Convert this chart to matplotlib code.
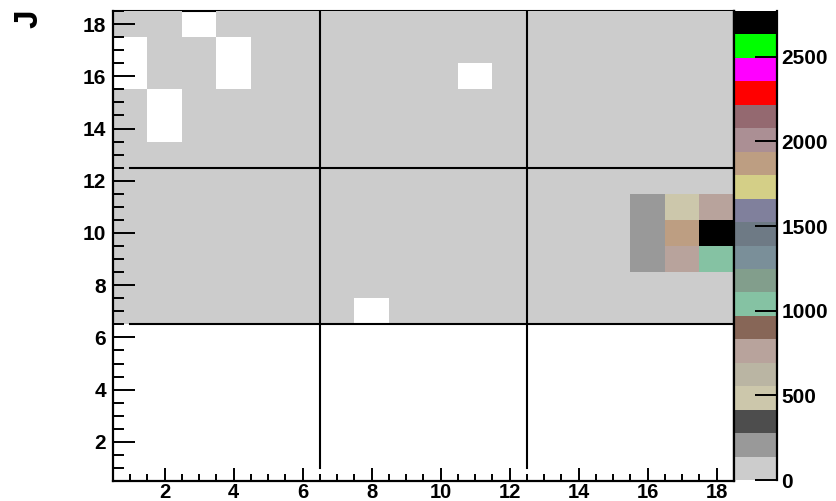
import numpy as np
import matplotlib
matplotlib.use('Agg')
import matplotlib.pyplot as plt
from matplotlib.colors import ListedColormap, BoundaryNorm
from matplotlib.lines import Line2D

plt.rcParams['font.family'] = ['Liberation Sans', 'DejaVu Sans']
plt.rcParams['font.weight'] = 'bold'

# ---------------- data ----------------
x_bins = list(range(1, 19))
y_bins = list(range(1, 19))
y_title = "J"
z_max = 2770
cbar_ticks = [0, 500, 1000, 1500, 2000, 2500]
x_ticks = [2, 4, 6, 8, 10, 12, 14, 16, 18]
y_ticks = [2, 4, 6, 8, 10, 12, 14, 16, 18]
divider_x = [6.5, 12.5]
divider_y = [6.5, 12.5]

# ROOT-like 20-level palette (low -> high)
palette = [
    (0.80, 0.80, 0.80), (0.60, 0.60, 0.60), (0.30, 0.30, 0.30),
    (0.80, 0.78, 0.67), (0.73, 0.71, 0.64), (0.72, 0.64, 0.61),
    (0.53, 0.40, 0.34), (0.52, 0.76, 0.64), (0.51, 0.62, 0.55),
    (0.48, 0.56, 0.60), (0.43, 0.48, 0.52), (0.50, 0.50, 0.61),
    (0.83, 0.81, 0.53), (0.74, 0.62, 0.51), (0.67, 0.56, 0.58),
    (0.58, 0.41, 0.44), (1.00, 0.00, 0.00), (1.00, 0.00, 1.00),
    (0.00, 1.00, 0.00), (0.00, 0.00, 0.00),
]

# counts[j][i] : y bin j+1, x bin i+1 (0 = empty bin, not drawn)
counts = [
    [0]*18,                                                              # y=1
    [0]*18,                                                              # y=2
    [0]*18,                                                              # y=3
    [0]*18,                                                              # y=4
    [0]*18,                                                              # y=5
    [0]*18,                                                              # y=6
    [50, 50, 50, 50, 50, 50, 50, 0, 50, 50, 50, 50, 50, 50, 50, 50, 50, 50],      # y=7
    [50, 50, 50, 50, 50, 50, 50, 50, 50, 50, 50, 50, 50, 50, 50, 50, 50, 50],     # y=8
    [50, 50, 50, 50, 50, 50, 50, 50, 50, 50, 50, 50, 50, 50, 50, 200, 760, 1040], # y=9
    [50, 50, 50, 50, 50, 50, 50, 50, 50, 50, 50, 50, 50, 50, 50, 200, 1870, 2765],# y=10
    [50, 50, 50, 50, 50, 50, 50, 50, 50, 50, 50, 50, 50, 50, 50, 200, 480, 760],  # y=11
    [50, 50, 50, 50, 50, 50, 50, 50, 50, 50, 50, 50, 50, 50, 50, 50, 50, 50],     # y=12
    [50, 50, 50, 50, 50, 50, 50, 50, 50, 50, 50, 50, 50, 50, 50, 50, 50, 50],     # y=13
    [50, 0, 50, 50, 50, 50, 50, 50, 50, 50, 50, 50, 50, 50, 50, 50, 50, 50],      # y=14
    [50, 0, 50, 50, 50, 50, 50, 50, 50, 50, 50, 50, 50, 50, 50, 50, 50, 50],      # y=15
    [0, 50, 50, 0, 50, 50, 50, 50, 50, 50, 0, 50, 50, 50, 50, 50, 50, 50],        # y=16
    [0, 50, 50, 0, 50, 50, 50, 50, 50, 50, 50, 50, 50, 50, 50, 50, 50, 50],       # y=17
    [50, 50, 0, 50, 50, 50, 50, 50, 50, 50, 50, 50, 50, 50, 50, 50, 50, 50],      # y=18
]

# ---------------- figure ----------------
W, H = 837, 501
fig = plt.figure(figsize=(W / 100, H / 100), dpi=100)

x_edges = np.array([b - 0.5 for b in x_bins] + [x_bins[-1] + 0.5])
y_edges = np.array([b - 0.5 for b in y_bins] + [y_bins[-1] + 0.5])

left_px, right_px, top_px, bot_px = 113, 734, 11, 481
ax = fig.add_axes([left_px / W, 1 - bot_px / H, (right_px - left_px) / W, (bot_px - top_px) / H])

Z = np.ma.masked_equal(np.array(counts, dtype=float), 0)
cmap = ListedColormap(palette)
levels = np.linspace(0, z_max, len(palette) + 1)
norm = BoundaryNorm(levels, cmap.N)
mesh = ax.pcolormesh(x_edges, y_edges, Z, cmap=cmap, norm=norm, zorder=1)

ax.set_xlim(x_edges[0], x_edges[-1])
ax.set_ylim(y_edges[0], y_edges[-1])

# top frame line lies under the cells (visible only over empty bins)
ax.plot([x_edges[0], x_edges[-1]], [y_edges[-1], y_edges[-1]], color='black',
        lw=1.5, zorder=0.5, clip_on=False)
ax.spines['top'].set_visible(False)
for s in ['left', 'bottom', 'right']:
    ax.spines[s].set_linewidth(1.6)

# divider lines
for xv in divider_x:
    ax.plot([xv, xv], [1.0, y_edges[-1]], color='black', lw=1.5, zorder=4)
for yv in divider_y:
    ax.plot([1.0, x_edges[-1]], [yv, yv], color='black', lw=1.5, zorder=4)

ax.set_xticks(x_ticks)
ax.set_yticks(y_ticks)
ax.set_xticks(np.arange(1.0, 18.6, 0.5), minor=True)
ax.set_yticks(np.arange(1.0, 18.6, 0.5), minor=True)
ax.tick_params(axis='x', which='major', direction='in', length=9.5, width=1.4,
               labelsize=14.5, pad=1.5, top=False)
ax.tick_params(axis='x', which='minor', direction='in', length=5, width=1.4, top=False)
ax.tick_params(axis='y', which='major', direction='in', length=16, width=1.4,
               labelsize=15, pad=5, right=False)
ax.tick_params(axis='y', which='minor', direction='in', length=8, width=1.4, right=False)
for lab in ax.get_xticklabels() + ax.get_yticklabels():
    lab.set_fontweight('bold')

# y title
fig.text(29 / W, 1 - 9 / H, y_title, rotation=90, ha='center', va='top',
         fontsize=24, fontweight='bold')

# colour bar
cax = fig.add_axes([734 / W, 1 - 480 / H, 43 / W, (480 - 11) / H])
cb = fig.colorbar(mesh, cax=cax, ticks=cbar_ticks)
cb.outline.set_visible(False)
cax.add_line(Line2D([0, 0], [0, 1], transform=cax.transAxes, color='black', lw=1.6, clip_on=False))
cax.add_line(Line2D([1, 1], [0, 1], transform=cax.transAxes, color='black', lw=1.6, clip_on=False))
cax.yaxis.set_ticks_position('right')
cax.tick_params(axis='y', which='major', direction='in', length=16, width=1.4,
                labelsize=15, pad=3)
cax.minorticks_off()
for lab in cax.get_yticklabels():
    lab.set_fontweight('bold')

fig.savefig('out.png', dpi=100)
